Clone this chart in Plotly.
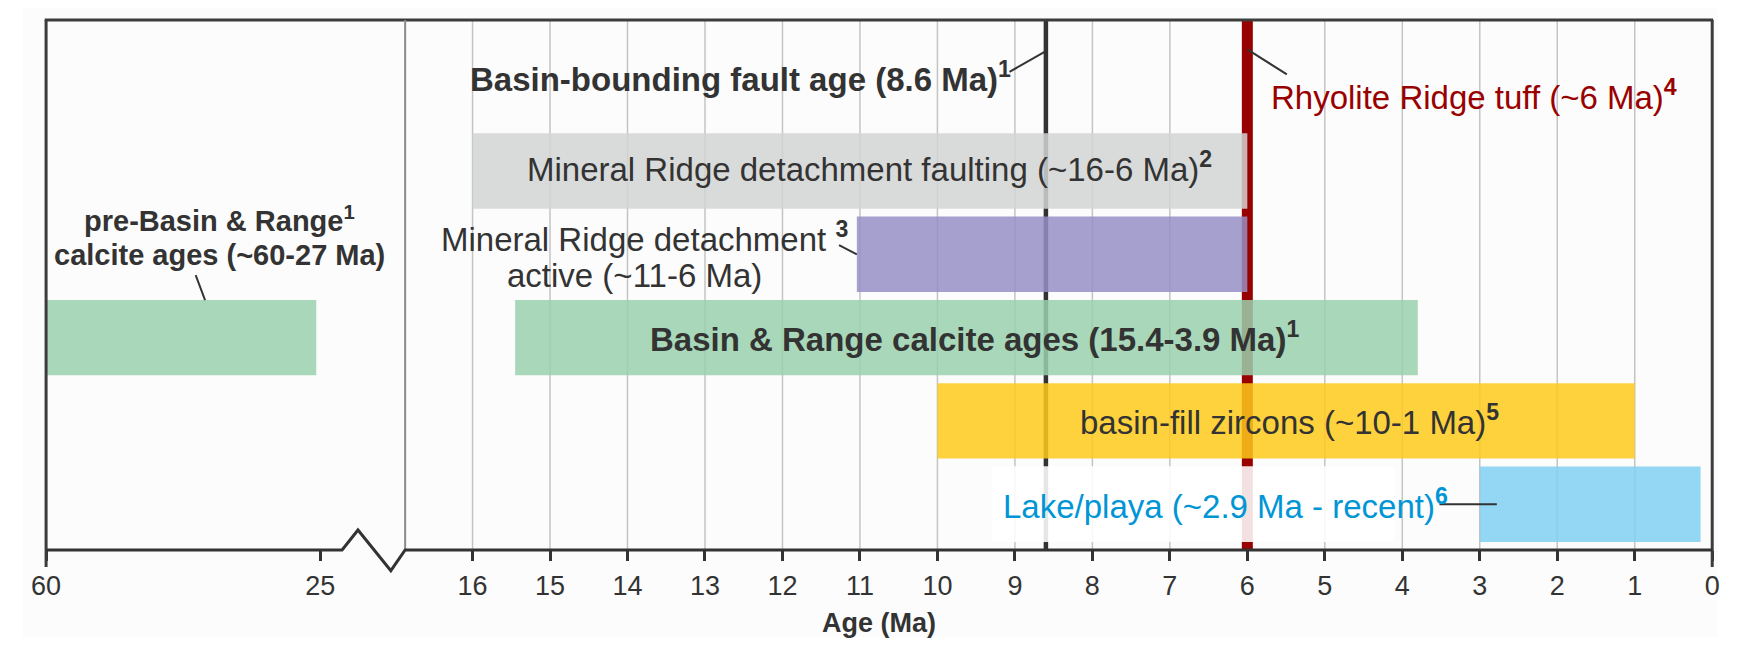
import plotly.graph_objects as go

# rows from the bottom: lake, zircons, B&R calcite, MR active, MR faulting
rows = [0, 1, 2, 3, 4]
start_ma = [3.0, 10.0, 15.45, 11.04, 16.0]
end_ma = [0.15, 1.0, 3.8, 6.0, 6.0]
bar_colors = ["#80d0f2", "#fdca1a", "#99d1ad", "#968fc5", "#d2d3d4"]

# the single bar on the compressed (old) part of the axis
old_rows = [2]
old_start = [60.0]
old_end = [25.5]

fault_age = 8.6
tuff_age = 6.0

left_ticks = [60, 25]
right_ticks = list(range(16, -1, -1))

# the page keeps an 8px body margin, so the plot paper is a bit smaller than the window
W, H, M = 1744, 655, 8
DARK = "#333333"
FONT = "Liberation Sans, Arial, sans-serif"


def px(x):
    return (x - M) / (W - 2 * M)


def py(y):
    return 1 - (y - M) / (H - 2 * M)


def sup(n):
    return f"<sup><b>{n}</b></sup>"


fig = go.Figure()

fig.add_trace(go.Bar(
    y=rows, x=[s - e for s, e in zip(start_ma, end_ma)], base=end_ma,
    orientation="h", width=0.905, xaxis="x2", yaxis="y",
    marker=dict(color=bar_colors, opacity=0.85, line=dict(width=0)),
    hoverinfo="skip", showlegend=False,
))
fig.add_trace(go.Bar(
    y=old_rows, x=[s - e for s, e in zip(old_start, old_end)], base=old_end,
    orientation="h", width=0.905, xaxis="x", yaxis="y",
    marker=dict(color="#99d1ad", opacity=0.85, line=dict(width=0)),
    hoverinfo="skip", showlegend=False,
))

shapes = []
# page background
shapes.append(dict(type="rect", xref="paper", yref="paper", x0=px(M), x1=px(1726),
                   y0=py(637), y1=py(M), fillcolor="#fcfcfc", line=dict(width=0), layer="below"))
# grid lines (as shapes so the age lines sit on top of them, bars above all)
for t in right_ticks[:-1]:
    shapes.append(dict(type="line", xref="x2", yref="y domain", x0=t, x1=t, y0=0, y1=1,
                       line=dict(color="#c4c4c4", width=1.5), layer="below"))
# age lines, drawn under the bars
shapes.append(dict(type="line", xref="x2", yref="y domain", x0=fault_age, x1=fault_age,
                   y0=0, y1=1, line=dict(color=DARK, width=4.5), layer="below"))
shapes.append(dict(type="line", xref="x2", yref="y domain", x0=tuff_age, x1=tuff_age,
                   y0=0, y1=1, line=dict(color="#990000", width=11), layer="below"))
# pale box behind the lake label
shapes.append(dict(type="rect", xref="x2", yref="y", x0=9.3, x1=4.1, y0=-0.455, y1=0.455,
                   fillcolor="rgba(255,255,255,0.88)", line=dict(width=0), layer="below"))

# frame with the axis break
frame = dict(color="#3c3c3c", width=3)
shapes.append(dict(type="line", xref="paper", yref="paper", x0=px(30), x1=px(1721),
                   y0=py(20), y1=py(20), line=frame, layer="above"))
shapes.append(dict(type="line", xref="paper", yref="paper", x0=px(31.4), x1=px(31.4),
                   y0=py(20), y1=py(567), line=frame, layer="above"))
shapes.append(dict(type="line", xref="paper", yref="paper", x0=px(1720), x1=px(1720),
                   y0=py(20), y1=py(567), line=frame, layer="above"))
shapes.append(dict(type="line", xref="paper", yref="paper", x0=px(395.3), x1=px(395.3),
                   y0=py(20), y1=py(550), line=dict(color="#8a8a8a", width=2), layer="above"))
zig = [(31.4, 550), (331.4, 550), (347.5, 530), (380.8, 570.7), (395.3, 550), (1720, 550)]
path = "M" + " L".join(f"{px(a):.5f},{py(b):.5f}" for a, b in zig)
shapes.append(dict(type="path", xref="paper", yref="paper", path=path,
                   line=dict(color="#333333", width=3), layer="above"))

# leader lines from labels
leaders = [
    ("x2", 9.07, 5.19, 8.6, 5.44),
    ("x2", 6.0, 5.46, 5.49, 5.16),
    ("x2", 11.27, 3.11, 11.04, 3.0),
    ("x", 40.9, 2.75, 39.7, 2.45),
    ("x2", 3.52, 0.0, 2.78, 0.0),
]
for xr, x0, y0, x1, y1 in leaders:
    shapes.append(dict(type="line", xref=xr, yref="y", x0=x0, y0=y0, x1=x1, y1=y1,
                       line=dict(color=DARK, width=2), layer="above"))

anns = []


def label(text, x, y, size=33, color=DARK, xanchor="left", xref="x2", yref="y",
          yanchor="middle"):
    anns.append(dict(text=text, x=x, y=y, xref=xref, yref=yref, xanchor=xanchor,
                     yanchor=yanchor, showarrow=False, borderpad=0,
                     font=dict(family=FONT, size=size, color=color)))


label("<b>Basin-bounding fault age (8.6 Ma)</b>" + sup(1), 16.04, 5.13)
label("Rhyolite Ridge tuff (~6 Ma)" + sup(4), 5.707, 4.91, color="#990000")
label("Mineral Ridge detachment faulting (~16-6 Ma)" + sup(2), 15.31, 4.05)
label("Mineral Ridge detachment " + sup(3), 13.78, 3.207, xanchor="center")
label("active (~11-6 Ma)", 13.91, 2.751, xanchor="center")
label("<b>Basin & Range calcite ages (15.4-3.9 Ma)</b>" + sup(1), 13.72, 2.01)
label("basin-fill zircons (~10-1 Ma)" + sup(5), 2.74, 1.01, xanchor="right")
label("Lake/playa (~2.9 Ma - recent)" + sup(6), 9.163, 0.0, color="#0096d6")
# two stacked lines that just touch each other
label("<b>pre-Basin & Range</b>" + sup(1), 37.8, 3.19, size=29, xanchor="center",
      xref="x", yanchor="bottom")
label("<b>calcite ages (~60-27 Ma)</b>", 37.9, 3.19, size=29, xanchor="center",
      xref="x", yanchor="top")
label("<b>Age (Ma)</b>", 10.75, py(623), size=27, xanchor="center", yref="paper")

axis_common = dict(ticks="outside", ticklen=10, tickwidth=3, tickcolor=DARK,
                   showline=False, zeroline=False, anchor="y", showgrid=False,
                   ticklabelstandoff=2,
                   tickfont=dict(family=FONT, size=27, color=DARK))

fig.update_layout(
    margin=dict(l=0, r=0, t=0, b=0),
    paper_bgcolor="white",
    plot_bgcolor="rgba(0,0,0,0)",
    showlegend=False,
    xaxis=dict(domain=[px(31.4), px(331.4)], range=[60, 22.2], tickmode="array",
               tickvals=left_ticks, **axis_common),
    xaxis2=dict(domain=[px(395.3), px(1720)], range=[16.87, 0], tickmode="array",
                tickvals=right_ticks, **axis_common),
    yaxis=dict(domain=[py(550), py(20)], range=[-0.55, 5.813], visible=False),
    shapes=shapes,
    annotations=anns,
)

fig.write_html("out.html")
